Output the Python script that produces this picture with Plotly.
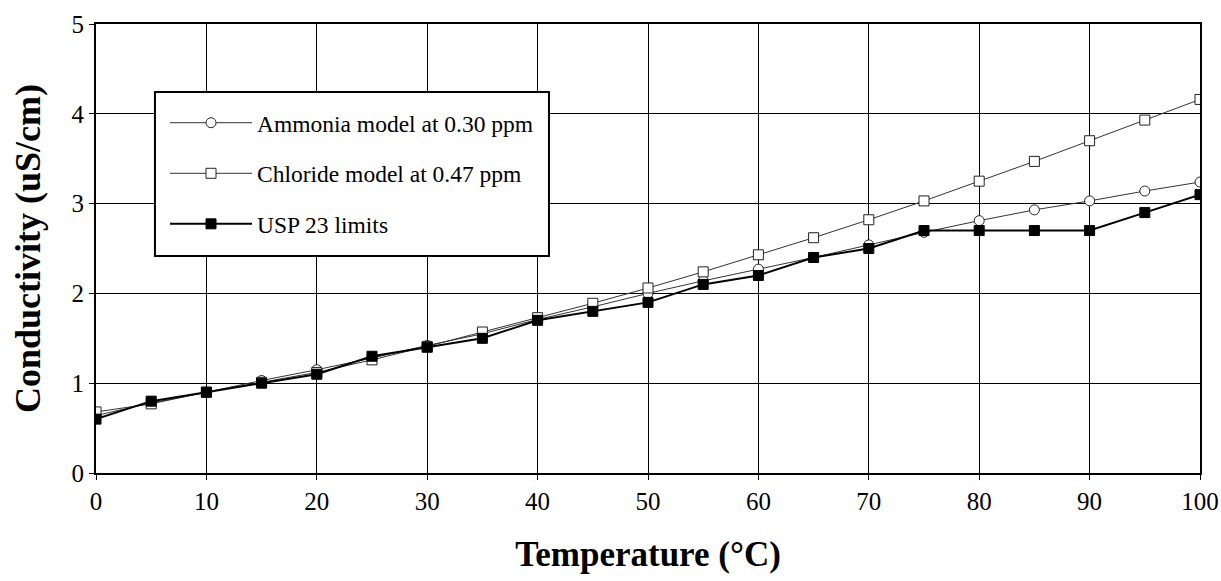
import plotly.graph_objects as go

temperature = [0, 5, 10, 15, 20, 25, 30, 35, 40, 45, 50, 55, 60, 65, 70, 75, 80, 85, 90, 95, 100]
ammonia = [0.64, 0.78, 0.90, 1.03, 1.15, 1.28, 1.42, 1.55, 1.71, 1.85, 2.00, 2.14, 2.27, 2.40, 2.54, 2.68, 2.81, 2.93, 3.03, 3.14, 3.24]
chloride = [0.68, 0.77, 0.90, 1.01, 1.12, 1.26, 1.41, 1.57, 1.73, 1.89, 2.06, 2.24, 2.43, 2.62, 2.82, 3.03, 3.25, 3.47, 3.70, 3.93, 4.16]
usp23 = [0.6, 0.8, 0.9, 1.0, 1.1, 1.3, 1.4, 1.5, 1.7, 1.8, 1.9, 2.1, 2.2, 2.4, 2.5, 2.7, 2.7, 2.7, 2.7, 2.9, 3.1]

FONT = "Liberation Serif, Times New Roman, serif"

fig = go.Figure()
fig.add_trace(go.Scatter(
    x=temperature, y=ammonia, mode="lines+markers", name="Ammonia model at 0.30 ppm",
    legendgroup="a",
    line=dict(color="#333333", width=1),
    marker=dict(symbol="circle", size=10, color="white", line=dict(color="#222222", width=1)),
))
fig.add_trace(go.Scatter(
    x=temperature, y=chloride, mode="lines+markers", name="Chloride model at 0.47 ppm",
    legendgroup="b",
    line=dict(color="#333333", width=1),
    marker=dict(symbol="square", size=10, color="white", line=dict(color="#222222", width=1)),
))
fig.add_trace(go.Scatter(
    x=temperature, y=usp23, mode="lines+markers", name="USP 23 limits",
    legendgroup="c",
    line=dict(color="black", width=2),
    marker=dict(symbol="square", size=10, color="black", line=dict(color="black", width=1)),
))

# legend frame
fig.add_shape(
    type="rect", xref="paper", yref="paper",
    x0=0.0534, x1=0.4103, y0=0.4833, y1=0.8486,
    line=dict(color="black", width=2), fillcolor="white", layer="above",
)

fig.update_layout(
    width=1221, height=581,
    margin=dict(l=96, r=21, t=24, b=108),
    paper_bgcolor="white", plot_bgcolor="white",
    font=dict(family=FONT, size=25, color="black"),
    showlegend=True,
    legend=dict(
        x=0.0625, y=0.8286, xanchor="left", yanchor="top",
        borderwidth=0, bgcolor="rgba(0,0,0,0)",
        font=dict(family=FONT, size=23.5, color="black"),
        tracegroupgap=17, itemwidth=82,
    ),
    xaxis=dict(
        range=[0, 100], dtick=10, tick0=0,
        showgrid=True, gridcolor="black", gridwidth=1,
        showline=True, linecolor="black", linewidth=2, mirror=True,
        ticks="outside", ticklen=5, tickcolor="black",
        zeroline=False, automargin=False,
        tickfont=dict(family=FONT, size=25),
        title=dict(text="<b>Temperature (°C)</b>", font=dict(family=FONT, size=35), standoff=27),
    ),
    yaxis=dict(
        range=[0, 5], dtick=1, tick0=0,
        showgrid=True, gridcolor="black", gridwidth=1,
        showline=True, linecolor="black", linewidth=2, mirror=True,
        ticks="outside", ticklen=5, tickcolor="black",
        zeroline=False, automargin=False,
        tickfont=dict(family=FONT, size=25),
        title=dict(text="<b>Conductivity (uS/cm)</b>", font=dict(family=FONT, size=36), standoff=20),
    ),
)

fig.write_html("out.html")
